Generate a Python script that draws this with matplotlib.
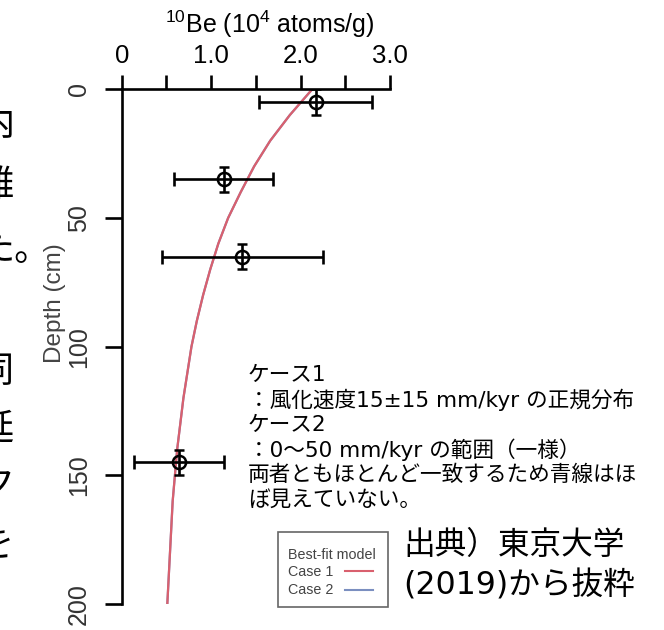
import matplotlib.pyplot as plt
from matplotlib.patches import Rectangle
from matplotlib.lines import Line2D

plt.rcParams['font.family'] = ['Liberation Sans', 'Noto Sans CJK JP', 'DejaVu Sans']
plt.rcParams['mathtext.default'] = 'regular'

# measured 10Be concentrations (10^4 atoms/g) vs depth (cm)
depth = [5, 35, 65, 145]
be10 = [2.17, 1.14, 1.35, 0.64]
be10_err = [0.63, 0.55, 0.90, 0.50]
depth_err = [5, 5, 5, 5]

# best-fit model curves
model_depth = [0, 10, 20, 30, 40, 50, 60, 70, 80, 90, 100, 120, 140, 160, 180, 200]
case1 = [2.13, 1.88, 1.66, 1.48, 1.33, 1.19, 1.08, 0.99, 0.91, 0.84, 0.78, 0.69, 0.62, 0.57, 0.54, 0.51]
case2 = [2.13, 1.88, 1.66, 1.48, 1.33, 1.19, 1.08, 0.99, 0.91, 0.84, 0.78, 0.69, 0.62, 0.57, 0.54, 0.51]

xticks = [0, 1, 2, 3]
xticklabels = ['0', '1.0', '2.0', '3.0']
yticks = [0, 50, 100, 150, 200]

note_lines = ['ケース1', '：風化速度15±15 mm/kyr の正規分布', 'ケース2',
              '：0〜50 mm/kyr の範囲（一様）', '両者ともほとんど一致するため青線はほ',
              'ぼ見えていない。']
source_lines = ['出典）東京大学', '(2019)から抜粋']
side_chars = ['内', '難', 'た。', '同', '延', 'ク', 'を']
side_y = [125, 186, 250, 372, 430, 484, 545]

W, H = 664, 630
red = '#d9606e'
blue = '#7b8fc0'
jp = ['DejaVu Sans', 'Noto Sans CJK JP']


def fx(x):
    return x / W


def fy(y):
    return 1 - y / H


fig = plt.figure(figsize=(W / 100, H / 100), dpi=100)
ax = fig.add_axes([fx(121.7), fy(604), (390 - 121.7) / W, (604 - 89.3) / H])

ax.plot(case2, model_depth, color=blue, lw=1.6)
ax.plot(case1, model_depth, color=red, lw=1.6)

ax.errorbar(be10, depth, xerr=be10_err, fmt='none', ecolor='black', elinewidth=1.9,
            capsize=4.8, capthick=1.9)
ax.errorbar(be10, depth, yerr=depth_err, fmt='o', mfc='none', mec='black', mew=1.8,
            ms=9.5, ecolor='black', elinewidth=1.9, capsize=3.6, capthick=1.9)

ax.set_xlim(0, 3)
ax.set_ylim(200, 0)
for s in ['bottom', 'right']:
    ax.spines[s].set_visible(False)
for s in ['top', 'left']:
    ax.spines[s].set_linewidth(1.9)

ax.xaxis.set_ticks_position('top')
ax.set_xticks(xticks)
ax.set_xticklabels(xticklabels)
ax.set_xticks([0.5, 1.5, 2.5], minor=True)
ax.tick_params(axis='x', which='both', direction='out', length=10.3, width=1.9,
               labelsize=18.5, pad=5, colors='black')
ax.set_yticks(yticks)
ax.tick_params(axis='y', direction='out', length=12, width=1.9, labelsize=18,
               pad=10, labelcolor='#333333')
for lab in ax.get_yticklabels():
    lab.set_rotation(90)
    lab.set_va('center')

fig.text(fx(269.5), fy(33), r'$^{10}$Be (10$^{4}$ atoms/g)', ha='center', va='baseline',
         fontsize=18)
fig.text(fx(55), fy(303), 'Depth (cm)', rotation=90, ha='center', va='center',
         fontsize=17.5, color='#444444')

for i, line in enumerate(note_lines):
    fig.text(fx(248), fy(375 + 25 * i), line, ha='left', va='center', fontsize=15.6,
             family=jp)

for i, line in enumerate(source_lines):
    fig.text(fx(403), fy(545 + 41 * i), line, ha='left', va='center', fontsize=22.8,
             family=jp)

# line ends of the page text that runs in from the left
for ch, y in zip(side_chars, side_y):
    fig.text(fx(-22), fy(y), ch, ha='left', va='center', fontsize=26,
             family=['Noto Sans CJK JP', 'DejaVu Sans'])

# legend box
fig.add_artist(Rectangle((fx(278), fy(607)), 110 / W, 75 / H, transform=fig.transFigure,
                         fill=False, edgecolor='#666666', lw=1.2))
fig.text(fx(288), fy(555), 'Best-fit model', fontsize=10.3, color='#444444', va='center')
fig.text(fx(288), fy(572), 'Case 1', fontsize=10.3, color='#444444', va='center')
fig.text(fx(288), fy(590), 'Case 2', fontsize=10.3, color='#444444', va='center')
fig.add_artist(Line2D([fx(345), fx(373)], [fy(571), fy(571)], transform=fig.transFigure,
                      color=red, lw=1.5))
fig.add_artist(Line2D([fx(345), fx(373)], [fy(590), fy(590)], transform=fig.transFigure,
                      color=blue, lw=1.5))

fig.savefig('out.png', dpi=100)
